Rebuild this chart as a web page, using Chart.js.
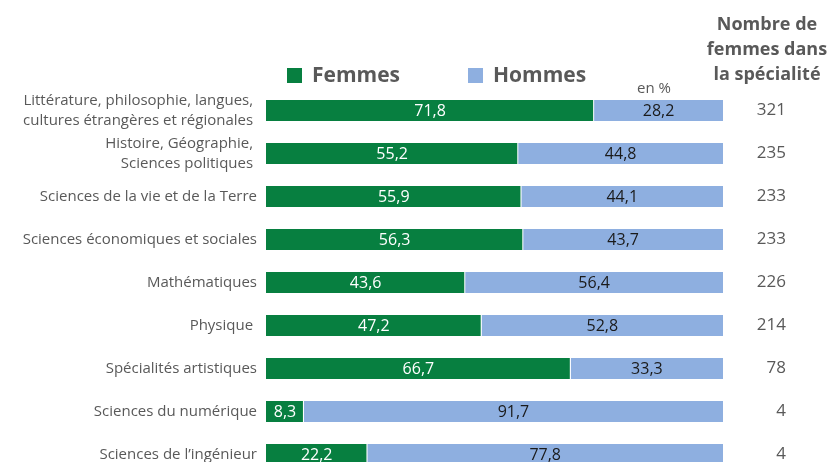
<!DOCTYPE html>
<html lang="fr">
<head>
<meta charset="utf-8">
<script src="https://cdn.jsdelivr.net/npm/chart.js@4/dist/chart.umd.min.js"></script>
<style>
    html, body { margin: 0; padding: 0; width: 828px; height: 462px; overflow: hidden; background: #fff; font-family: 'Open Sans', sans-serif; }
    #wrap { position: relative; width: 828px; height: 476px; }
    #chart { position: absolute; left: 0; top: 0; }
    .legend { position: absolute; top: 60px; font-size: 21px; font-weight: bold; color: #595959; }
    .legend span.box { display: inline-block; width: 15px; height: 15px; margin-right: 10px; vertical-align: -1px; }
    #unit { position: absolute; left: 637px; top: 77px; font-size: 15px; color: #595959; }
    #header { position: absolute; left: 703px; top: 11px; width: 128px; text-align: center; font-size: 18px; font-weight: bold; color: #595959; line-height: 25px; }
</style>
</head>
<body>
<div id="wrap">
    <canvas id="chart" width="828" height="476"></canvas>
    <div class="legend" style="left:287px"><span class="box" style="background:#077F40"></span>Femmes</div>
    <div class="legend" style="left:468px"><span class="box" style="background:#8EAFE0"></span>Hommes</div>
    <div id="unit">en %</div>
    <div id="header">Nombre de<br>femmes dans<br>la spécialité</div>
</div>
<script>
// Spécialités (axe de gauche)
const specialites = [
    ['Littérature, philosophie, langues, ', 'cultures étrangères et régionales '],
    ['Histoire, Géographie, ', 'Sciences politiques '],
    'Sciences de la vie et de la Terre',
    'Sciences économiques et sociales',
    'Mathématiques',
    'Physique ',
    'Spécialités artistiques',
    'Sciences du numérique',
    'Sciences de l\u2019ingénieur'
];
// Part des femmes / des hommes, en %
const femmes = [71.8, 55.2, 55.9, 56.3, 43.6, 47.2, 66.7, 8.3, 22.2];
const hommes = [28.2, 44.8, 44.1, 43.7, 56.4, 52.8, 33.3, 91.7, 77.8];
// Nombre de femmes dans la spécialité (colonne de droite)
const nbFemmes = ['321', '235', '233', '233', '226', '214', '78', '4', '4'];

function fmt(v) {
    return v.toFixed(1).replace('.', ',');
}

// valeurs écrites au milieu de chaque segment
const barLabels = {
    id: 'barLabels',
    afterDatasetsDraw(chart) {
        const ctx = chart.ctx;
        ctx.save();
        ctx.font = '16px "Open Sans"';
        ctx.textAlign = 'center';
        ctx.textBaseline = 'middle';
        chart.data.datasets.forEach((ds, i) => {
            ctx.fillStyle = i === 0 ? '#ffffff' : '#1a1a1a';
            chart.getDatasetMeta(i).data.forEach((bar, j) => {
                const cx = (bar.x + bar.base) / 2;
                ctx.fillText(fmt(ds.data[j]), cx, bar.y + 1);
            });
        });
        ctx.restore();
    }
};

// pas de marge verticale ajoutée par les libellés des axes
function noPad(scale, width) {
    scale.width = width;
    scale.paddingTop = 0;
    scale.paddingBottom = 0;
}

new Chart(document.getElementById('chart'), {
    type: 'bar',
    data: {
        labels: specialites,
        datasets: [
            {
                label: 'Femmes',
                data: femmes,
                backgroundColor: '#077F40',
                borderColor: '#ffffff',
                borderWidth: { top: 0, right: 1, bottom: 0, left: 0 },
                borderSkipped: false
            },
            {
                label: 'Hommes',
                data: hommes,
                backgroundColor: '#8EAFE0',
                borderWidth: 0
            }
        ]
    },
    options: {
        indexAxis: 'y',
        responsive: false,
        animation: false,
        layout: { padding: { top: 89, right: 42, bottom: 0, left: 0 } },
        datasets: { bar: { barPercentage: 1, categoryPercentage: 0.49 } },
        scales: {
            x: { stacked: true, min: 0, max: 100, display: false },
            y: {
                stacked: true,
                position: 'left',
                grid: { display: false, drawTicks: false },
                border: { display: false },
                ticks: { color: '#595959', font: { family: 'Open Sans', size: 15, lineHeight: 1.3 }, padding: 9 },
                afterFit: function(scale) { noPad(scale, 266); }
            },
            y2: {
                type: 'category',
                labels: nbFemmes,
                position: 'right',
                offset: true,
                grid: { display: false, drawTicks: false },
                border: { display: false },
                ticks: { color: '#595959', font: { family: 'Open Sans', size: 17 }, padding: 34, crossAlign: 'far' },
                afterFit: function(scale) { noPad(scale, 63); }
            }
        },
        plugins: {
            legend: { display: false },
            tooltip: { enabled: false }
        }
    },
    plugins: [barLabels]
});
</script>
</body>
</html>
